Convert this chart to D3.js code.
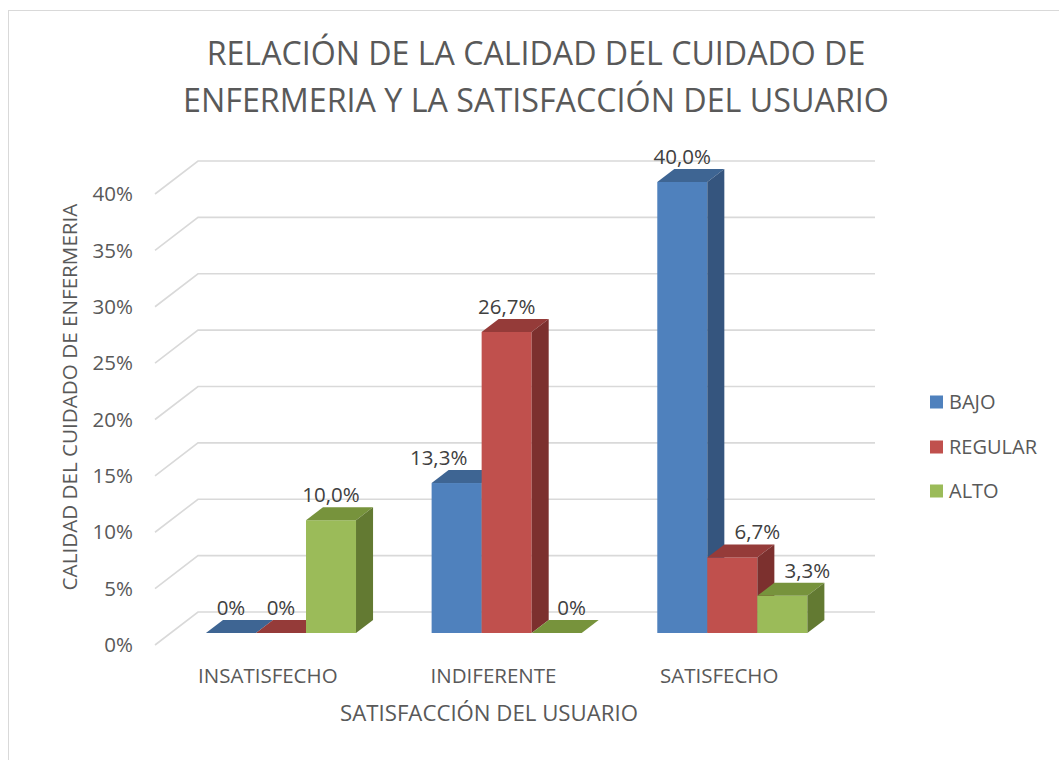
<!DOCTYPE html>
<html>
<head>
<meta charset="utf-8">
<script src="https://cdn.jsdelivr.net/npm/d3@7/dist/d3.min.js"></script>
<style>
  html, body { margin: 0; padding: 0; background: #fff; }
  svg { display: block; }
  text { font-family: "Open Sans", "Liberation Sans", sans-serif; }
</style>
</head>
<body>
<svg id="chart" width="1059" height="760"></svg>
<script>
// ---------------- data ----------------
const categories = ["INSATISFECHO", "INDIFERENTE", "SATISFECHO"];
const series = ["BAJO", "REGULAR", "ALTO"];
const bajo    = [0, 13.3, 40.0];
const regular = [0, 26.7, 6.7];
const alto    = [10.0, 0, 3.3];
const valueLabels = [
  ["0%", "13,3%", "40,0%"],
  ["0%", "26,7%", "6,7%"],
  ["10,0%", "0%", "3,3%"]
];
const yTicks = [0, 5, 10, 15, 20, 25, 30, 35, 40];
const yTickLabels = ["0%", "5%", "10%", "15%", "20%", "25%", "30%", "35%", "40%"];
const titleLines = ["RELACIÓN DE LA CALIDAD DEL CUIDADO DE", "ENFERMERIA Y LA SATISFACCIÓN DEL USUARIO"];
const xTitle = "SATISFACCIÓN DEL USUARIO";
const yTitle = "CALIDAD DEL CUIDADO DE ENFERMERIA";

// ---------------- styles / layout ----------------
const colors = {
  front: ["#4F81BD", "#C0504D", "#9BBB59"],
  top:   ["#3E6593", "#953B39", "#77933C"],
  side:  ["#35557E", "#7C302E", "#637A32"]
};
// label nudges (x offsets in px) per series/category, to mimic the reference placement
const labelNudge = [[0, -18, 0], [0, 0, 25], [0, 15, 25]];

const svg = d3.select("#chart");
const values = [bajo, regular, alto];

// border of the chart area
svg.append("rect").attr("x", 8.5).attr("y", 10.5).attr("width", 1100).attr("height", 800)
  .attr("fill", "#fff").attr("stroke", "#D9D9D9").attr("stroke-width", 1);

// 3D geometry
const depthX = 43, depthY = -33;         // floor depth offset (front -> back wall)
const barF0 = 0.364, barF1 = 0.76;        // bar depth position as fraction of floor depth
const x = d3.scaleBand().domain(categories).range([155, 832]);
const y = d3.scaleLinear().domain([0, 40]).range([645, 194]);
const groupW = x.bandwidth() * 0.665;
const groupOffset = (x.bandwidth() - groupW) / 2 - 2.5;
const xs = d3.scaleBand().domain(series).range([0, groupW]);

// gridlines (back wall + left diagonal)
const grid = svg.append("g");
yTicks.forEach(t => {
  const yy = y(t);
  grid.append("path")
    .attr("d", `M155,${yy} L${155 + depthX},${yy + depthY} L875,${yy + depthY}`)
    .attr("fill", "none").attr("stroke", "#D9D9D9").attr("stroke-width", 1.6);
});

// y tick labels
svg.append("g").selectAll("text").data(yTicks).join("text")
  .attr("x", 133).attr("y", d => y(d)).attr("dy", "0.35em")
  .attr("text-anchor", "end").attr("font-size", 20.5).attr("fill", "#595959")
  .text((d, i) => yTickLabels[i]);

// bars
const bars = svg.append("g");
const fdx = barF0 * depthX, fdy = barF0 * depthY;
const bdx = (barF1 - barF0) * depthX, bdy = (barF1 - barF0) * depthY;
categories.forEach((c, ci) => {
  const gx = x(c) + groupOffset + fdx;
  series.forEach((s, si) => {
    const v = values[si][ci];
    const x0 = gx + xs(s), x1 = x0 + xs.bandwidth();
    const yb = y(0) + fdy, yt = y(v) + fdy;
    if (yb - yt > 0.01) {
      bars.append("rect").attr("x", x0).attr("y", yt).attr("width", x1 - x0).attr("height", yb - yt)
        .attr("fill", colors.front[si]);
    }
    bars.append("path")
      .attr("d", `M${x0},${yt} L${x1},${yt} L${x1 + bdx},${yt + bdy} L${x0 + bdx},${yt + bdy} Z`)
      .attr("fill", colors.top[si]);
    if (yb - yt > 0.01) {
      bars.append("path")
        .attr("d", `M${x1},${yt} L${x1 + bdx},${yt + bdy} L${x1 + bdx},${yb + bdy} L${x1},${yb} Z`)
        .attr("fill", colors.side[si]);
    }
  });
});

// value labels
const labels = svg.append("g");
categories.forEach((c, ci) => {
  const gx = x(c) + groupOffset + fdx;
  series.forEach((s, si) => {
    const v = values[si][ci];
    const cx = gx + xs(s) + xs.bandwidth() / 2 + labelNudge[si][ci];
    const yt = y(v) + fdy + bdy;
    labels.append("text").attr("x", cx).attr("y", yt - 5)
      .attr("text-anchor", "middle").attr("font-size", 20.5).attr("fill", "#404040")
      .text(valueLabels[si][ci]);
  });
});

// category labels
svg.append("g").selectAll("text").data(categories).join("text")
  .attr("x", d => x(d) + x.bandwidth() / 2).attr("y", 683)
  .attr("text-anchor", "middle").attr("font-size", 20.5).attr("fill", "#595959")
  .text(d => d);

// helper: fit text to width
function fit(sel, w) {
  const n = sel.node();
  const cur = parseFloat(sel.attr("font-size"));
  const len = n.getComputedTextLength();
  sel.attr("font-size", cur * w / len);
}

// title
const t1 = svg.append("text").attr("x", 536).attr("y", 65).attr("text-anchor", "middle")
  .attr("font-size", 30).attr("fill", "#595959").text(titleLines[0]);
fit(t1, 659);
const t2 = svg.append("text").attr("x", 536).attr("y", 112).attr("text-anchor", "middle")
  .attr("font-size", 30).attr("fill", "#595959").text(titleLines[1]);
fit(t2, 706);

// axis titles
const xt = svg.append("text").attr("x", 489).attr("y", 721).attr("text-anchor", "middle")
  .attr("font-size", 20).attr("fill", "#595959").text(xTitle);
fit(xt, 298);
const yt = svg.append("text").attr("transform", "translate(77,397) rotate(-90)")
  .attr("text-anchor", "middle").attr("font-size", 20).attr("fill", "#595959").text(yTitle);
fit(yt, 387);

// legend
const lg = svg.append("g");
const legendY = [402, 447, 491];
series.forEach((s, i) => {
  lg.append("rect").attr("x", 930).attr("y", legendY[i] - 6.5).attr("width", 13).attr("height", 13)
    .attr("fill", colors.front[i]);
  lg.append("text").attr("x", 949).attr("y", legendY[i]).attr("dy", "0.35em")
    .attr("font-size", 20).attr("fill", "#595959").text(s);
});
</script>
</body>
</html>
